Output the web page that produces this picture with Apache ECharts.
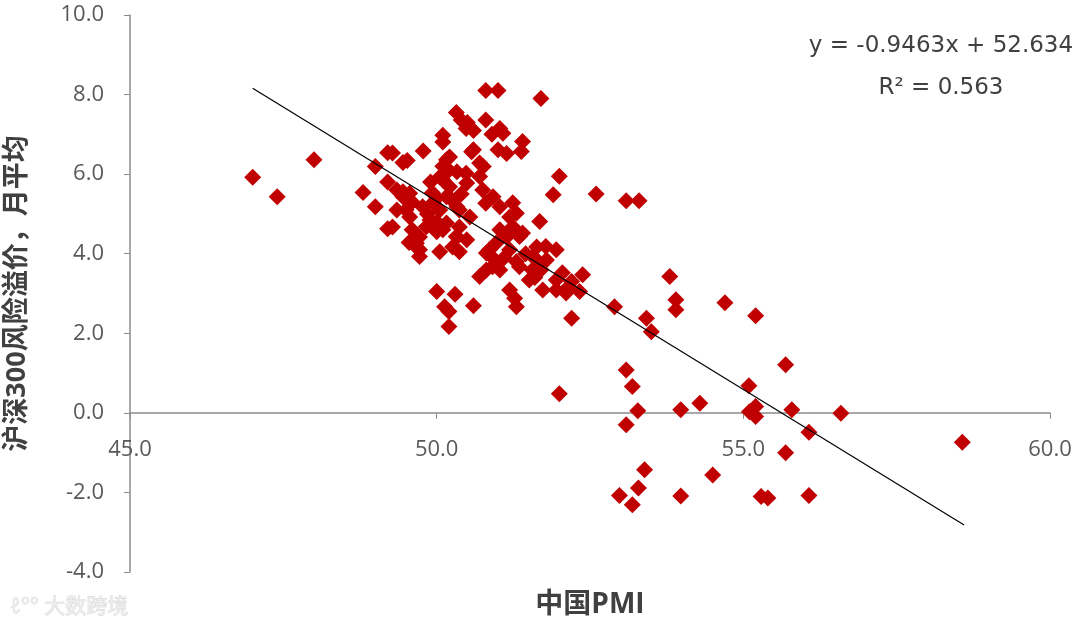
<!DOCTYPE html>
<html>
<head>
<meta charset="utf-8">
<script src="https://cdn.jsdelivr.net/npm/echarts@6/dist/echarts.min.js"></script>
<style>html,body{margin:0;padding:0;background:#fff}#c{width:1080px;height:627px}</style>
</head>
<body>
<div id="c"></div>
<script>
// China PMI (x) vs CSI300 risk premium monthly average (y)
const pmi = [
47.0,47.4,48.0,48.8,49.0,49.2,49.45,49.52,49.78,49.2,49.45,49.0,49.2,49.67,49.72,
50.8,51.0,51.7,50.32,50.4,50.48,50.8,51.03,51.08,50.1,51.4,51.38,50.6,51.0,51.14,
50.16,50.76,50.7,50.48,50.2,50.1,52.0,51.9,52.6,50.92,51.03,50.8,51.24,51.3,49.56,
49.5,49.94,50.16,50.37,51.68,49.6,49.83,50.1,50.32,49.55,49.72,50.05,50.37,51.03,51.24,
50.97,51.19,51.35,51.78,51.95,51.57,50.7,50.0,50.3,50.13,50.2,50.6,50.2,51.3,51.27,
51.19,52.2,52.38,52.33,52.11,51.95,53.8,53.9,53.9,52.9,53.42,53.5,54.7,55.2,53.09,
53.19,53.28,53.09,53.98,54.29,55.09,55.1,55.2,55.2,55.69,55.79,56.59,56.07,55.69,53.39,
54.5,52.98,53.29,53.19,53.98,55.29,55.4,56.07,58.57,53.09,53.3,52.0,
49.28,50.1,50.57,50.21,50.7,50.05,50.33,50.49,50.21,50.75,49.93,49.35,49.45,49.77,50.05,
50.33,50.54,49.56,49.89,50.16,50.37,49.35,49.28,49.72,50.0,50.33,49.67,50.26,50.49,50.81,
51.19,51.4,51.14,50.86,51.63,50.91,51.35,51.56,52.05,51.79,50.81,51.03,51.51,51.73,51.95,
52.13,50.95,51.63,50.5,50.9,50.6,49.9,50.0,50.1,50.25,50.4,49.85,50.0,49.6,51.1,
51.45,51.3,51.6,51.7,52.2
];
const premium = [
5.92,5.43,6.36,5.54,6.19,6.54,6.29,6.34,6.58,5.80,5.56,5.18,4.63,4.26,3.93,
8.10,8.10,7.90,7.55,7.36,7.15,7.36,7.15,7.03,6.98,6.82,6.57,6.61,6.61,6.52,
6.36,6.19,5.94,6.02,6.10,5.85,5.95,5.48,5.50,5.43,5.18,5.27,5.28,5.02,5.52,
5.10,5.28,5.43,5.10,4.81,4.60,4.68,4.60,4.43,4.28,4.10,4.05,4.05,4.60,4.68,
4.27,4.10,4.43,4.18,4.10,3.93,3.43,3.05,2.98,2.67,2.55,2.69,2.17,2.67,2.88,
3.09,2.38,3.47,3.05,3.01,3.09,3.43,2.84,2.59,2.67,2.38,2.04,2.77,2.44,1.08,
0.66,0.05,-0.30,0.08,0.24,0.68,0.03,0.16,-0.09,1.21,0.08,-0.01,-0.49,-1.00,-1.43,
-1.56,-2.08,-1.89,-2.31,-2.09,-2.10,-2.14,-2.08,-0.74,5.33,5.33,0.48,
6.53,6.81,6.56,6.43,6.28,5.93,6.06,5.78,5.68,5.60,5.53,5.60,5.43,5.18,5.10,
5.18,4.92,4.92,4.85,4.77,4.67,5.10,4.67,4.42,4.55,4.42,4.17,4.17,4.35,4.02,
4.92,4.52,4.42,4.10,4.17,3.67,3.67,3.59,3.52,3.84,3.59,3.59,3.34,3.09,3.34,
3.14,3.84,3.84,7.30,7.00,7.10,5.80,5.40,6.20,5.35,5.50,5.00,4.80,5.30,3.90,
4.00,3.80,3.40,3.60,3.30
];
// Linear trendline from the chart's equation
const trendSlope = -0.9463;
const trendIntercept = 52.634;
const trendRangeX = [47.0, 58.6];
const equationText = 'y = -0.9463x + 52.634';
const r2Text = 'R² = 0.563';
const xTicks = {min: 45, max: 60, interval: 5};
const yTicks = {min: -4, max: 10, interval: 2};
const xCrossAt = 0; // the horizontal axis crosses the vertical axis at y = 0

const points = pmi.map((x, i) => [x, premium[i]]);
const trend = trendRangeX.map(x => [x, trendSlope * x + trendIntercept]);

const font = '"Open Sans", "Noto Sans CJK SC", sans-serif';
const W = 1080, H = 627;
const gridL = 130, gridR = 30, gridT = 15, gridB = 55;
const plotH = H - gridT - gridB;
const xAxisOffset = -plotH * (xCrossAt - yTicks.min) / (yTicks.max - yTicks.min);

const chart = echarts.init(document.getElementById('c'));
chart.setOption({
  animation: false,
  backgroundColor: '#fff',
  grid: {left: gridL, right: gridR, top: gridT, bottom: gridB, outerBoundsMode: 'none', containLabel: false},
  xAxis: {
    type: 'value', min: xTicks.min, max: xTicks.max, interval: xTicks.interval,
    position: 'bottom', offset: xAxisOffset,
    axisLine: {show: true, onZero: false, lineStyle: {color: '#8c8c8c', width: 1.5}},
    axisTick: {show: true, length: 6, lineStyle: {color: '#8c8c8c'}},
    axisLabel: {margin: 26, fontSize: 22, color: '#595959', fontFamily: font, formatter: v => v.toFixed(1)},
    splitLine: {show: false}
  },
  yAxis: {
    type: 'value', min: yTicks.min, max: yTicks.max, interval: yTicks.interval,
    name: '沪深300风险溢价，月平均', nameLocation: 'middle', nameGap: 99,
    nameTextStyle: {fontSize: 27, fontWeight: 'bold', color: '#404040', fontFamily: font},
    axisLine: {show: true, lineStyle: {color: '#8c8c8c', width: 1.5}},
    axisTick: {show: true, length: 6, lineStyle: {color: '#8c8c8c'}},
    axisLabel: {margin: 26, fontSize: 22, color: '#595959', fontFamily: font, formatter: v => v.toFixed(1)},
    splitLine: {show: false}
  },
  graphic: [
    {type: 'text', x: 590, y: 605, style: {text: '中国PMI', fontSize: 28, fontWeight: 'bold', fill: '#404040', fontFamily: font, align: 'center', verticalAlign: 'middle'}},
    {type: 'text', x: 941, y: 46, style: {text: equationText, fontSize: 23, fill: '#404040', fontFamily: '"DejaVu Sans", sans-serif', align: 'center', verticalAlign: 'middle'}},
    {type: 'text', x: 941, y: 88, style: {text: r2Text, fontSize: 23, fill: '#404040', fontFamily: '"DejaVu Sans", sans-serif', align: 'center', verticalAlign: 'middle'}},
    {type: 'text', x: 10, y: 607, style: {text: 'ℓ°° 大数跨境', fontSize: 21, fill: '#ececec', stroke: '#cfcfcf', lineWidth: 0.6, fontFamily: font, verticalAlign: 'middle'}}
  ],
  series: [
    {type: 'scatter', data: points, symbol: 'diamond', symbolSize: 17, itemStyle: {color: '#C00000', opacity: 1}, z: 2},
    {type: 'line', data: trend, symbol: 'none', lineStyle: {color: '#000', width: 1.2}, z: 3, silent: true}
  ]
});
</script>
</body>
</html>
